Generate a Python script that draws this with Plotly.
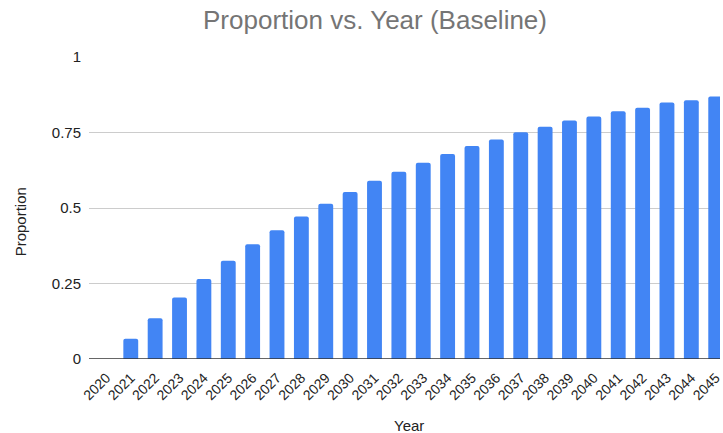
import plotly.graph_objects as go

years = list(range(2020, 2046))
proportion = [0.0, 0.067, 0.135, 0.204, 0.265, 0.325, 0.380, 0.426, 0.472, 0.514,
              0.553, 0.590, 0.620, 0.650, 0.679, 0.705, 0.727, 0.751, 0.769, 0.790,
              0.803, 0.820, 0.832, 0.849, 0.857, 0.869]
y_ticks = [0, 0.25, 0.5, 0.75, 1]
y_tick_labels = ["0", "0.25", "0.5", "0.75", "1"]

W, H = 723, 433
L, T, B = 89, 57, 74
FONT = "Liberation Sans, Arial, sans-serif"

fig = go.Figure(go.Bar(
    x=years, y=proportion,
    marker=dict(color="#4285F4", cornerradius=2, line=dict(width=0)),
    width=0.61,
))

fig.update_layout(
    width=W, height=H,
    margin=dict(l=L, r=0, t=T, b=B),
    paper_bgcolor="white", plot_bgcolor="white",
    font=dict(family=FONT, color="#222222", size=14),
    showlegend=False,
    title=dict(text="Proportion vs. Year (Baseline)", x=375 / W, xanchor="center",
               y=1 - 20 / H, yanchor="middle",
               font=dict(size=26, color="#757575", family=FONT)),
    xaxis=dict(
        range=[2020 - 0.714, 2045 + 0.176],
        tickmode="array", tickvals=years, ticktext=[str(y) for y in years],
        tickangle=-45, showgrid=False, zeroline=False, showline=False, ticks="",
        ticklabeloverflow="allow", ticklabelstandoff=7,
        tickfont=dict(size=14, color="#222222"),
    ),
    yaxis=dict(
        range=[0, 1], tickmode="array", tickvals=y_ticks, ticktext=y_tick_labels,
        showgrid=True, gridcolor="#cccccc", gridwidth=1, zeroline=False,
        showline=False, ticks="", ticklabelstandoff=7,
        tickfont=dict(size=15, color="#222222"),
    ),
    shapes=[dict(type="line", xref="paper", yref="y", x0=0, x1=1, y0=0, y1=0,
                 line=dict(color="#333333", width=1.5))],
    annotations=[
        dict(text="Year", xref="paper", yref="paper", x=(411 - L) / (W - L), y=-(425 - (H - B)) / (H - T - B),
             xanchor="center", yanchor="middle", showarrow=False,
             font=dict(size=15, color="#222222")),
        dict(text="Proportion", xref="paper", yref="paper", x=-(L - 20) / (W - L), y=(H - B - 222) / (H - T - B),
             xanchor="center", yanchor="middle", showarrow=False, textangle=-90,
             font=dict(size=15, color="#222222")),
    ],
)

fig.write_html("out.html")
